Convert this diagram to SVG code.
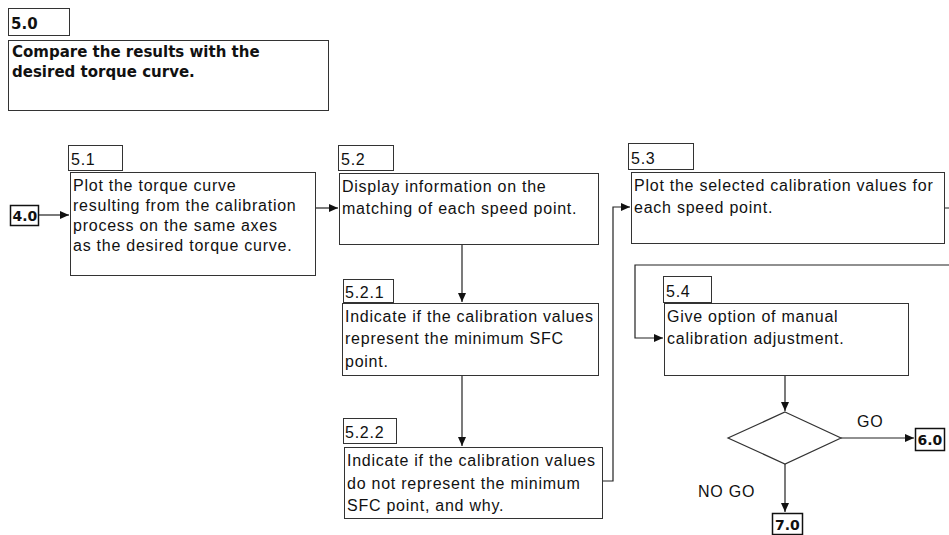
<svg xmlns="http://www.w3.org/2000/svg" width="949" height="535" viewBox="0 0 949 535">
<style>
.box{fill:#fff;stroke:#333;stroke-width:1}
.bbox{fill:#fff;stroke:#111;stroke-width:1.5}
.t{font-family:"Liberation Sans",Arial,sans-serif;font-size:16px;letter-spacing:0.75px;fill:#111}
.b{font-family:"DejaVu Sans",Verdana,sans-serif;font-weight:bold;fill:#111}
.c{fill:none;stroke:#222;stroke-width:1.2}
</style>
<defs>
<marker id="ah" markerUnits="userSpaceOnUse" markerWidth="10" markerHeight="10" refX="9" refY="5" orient="auto">
<path d="M0,1 L9,5 L0,9 Z" fill="#111"/>
</marker>
</defs>
<rect width="949" height="535" fill="#fff"/>

<g id="connectors">
<path class="c" d="M38,215 H69" marker-end="url(#ah)"/>
<path class="c" d="M315,208 H338" marker-end="url(#ah)"/>
<path class="c" d="M462,244 V302" marker-end="url(#ah)"/>
<path class="c" d="M462,375 V446" marker-end="url(#ah)"/>
<path class="c" d="M602,481 H613 V207 H630" marker-end="url(#ah)"/>
<path class="c" d="M945,208 H960 V265 H635 V338 H663" marker-end="url(#ah)"/>
<path class="c" d="M785,375 V411" marker-end="url(#ah)"/>
<path class="c" d="M841,438 H914" marker-end="url(#ah)"/>
<path class="c" d="M785,464 V512" marker-end="url(#ah)"/>
<text class="t" x="857" y="427">GO</text>
<text class="t" x="698" y="497">NO GO</text>
</g>

<g id="n5_0">
<rect class="box" x="8.5" y="8.5" width="61" height="27"/>
<text class="b" font-size="15" x="11" y="29">5.0</text>
<rect class="box" x="8.5" y="40.5" width="320" height="70"/>
<text class="b" font-size="15"><tspan x="12" y="57">Compare the results with the</tspan><tspan x="12" y="77">desired torque curve.</tspan></text>
</g>

<g id="n4_0">
<rect class="bbox" x="10.5" y="205.5" width="28" height="20"/>
<text class="b" font-size="14" x="12.5" y="221">4.0</text>
</g>

<g id="n5_1">
<rect class="box" x="68.5" y="145.5" width="54" height="25"/>
<text class="t" x="71" y="165">5.1</text>
<rect class="box" x="70.5" y="172.5" width="245" height="103"/>
<text class="t"><tspan x="73" y="191">Plot the torque curve</tspan><tspan x="73" y="211">resulting from the calibration</tspan><tspan x="73" y="231">process on the same axes</tspan><tspan x="73" y="251">as the desired torque curve.</tspan></text>
</g>

<g id="n5_2">
<rect class="box" x="338.5" y="145.5" width="55" height="25"/>
<text class="t" x="341" y="165">5.2</text>
<rect class="box" x="339.5" y="173.5" width="259" height="71"/>
<text class="t"><tspan x="342" y="192">Display information on the</tspan><tspan x="342" y="214">matching of each speed point.</tspan></text>
</g>

<g id="n5_2_1">
<rect class="box" x="343.5" y="279.5" width="50" height="23"/>
<text class="t" x="345" y="298">5.2.1</text>
<rect class="box" x="342.5" y="303.5" width="256" height="72"/>
<text class="t"><tspan x="345" y="321.5">Indicate if the calibration values</tspan><tspan x="345" y="344">represent the minimum SFC</tspan><tspan x="345" y="366.5">point.</tspan></text>
</g>

<g id="n5_2_2">
<rect class="box" x="343.5" y="418.5" width="53" height="25"/>
<text class="t" x="345" y="438">5.2.2</text>
<rect class="box" x="344.5" y="447.5" width="258" height="71"/>
<text class="t"><tspan x="347" y="466">Indicate if the calibration values</tspan><tspan x="347" y="488.5">do not represent the minimum</tspan><tspan x="347" y="511">SFC point, and why.</tspan></text>
</g>

<g id="n5_3">
<rect class="box" x="628.5" y="143.5" width="65" height="26"/>
<text class="t" x="631" y="164">5.3</text>
<rect class="box" x="631.5" y="172.5" width="313" height="71"/>
<text class="t"><tspan x="634" y="191">Plot the selected calibration values for</tspan><tspan x="634" y="213">each speed point.</tspan></text>
</g>

<g id="n5_4">
<rect class="box" x="663.5" y="276.5" width="48" height="26"/>
<text class="t" x="666" y="297">5.4</text>
<rect class="box" x="664.5" y="303.5" width="244" height="72"/>
<text class="t"><tspan x="667" y="321.5">Give option of manual</tspan><tspan x="667" y="344">calibration adjustment.</tspan></text>
</g>

<g id="decision">
<polygon points="785,412 841,438 785,464 728,438" fill="#fff" stroke="#333" stroke-width="1.2"/>
</g>

<g id="n6_0">
<rect class="bbox" x="915.5" y="428.5" width="29" height="22"/>
<text class="b" font-size="14" x="917.5" y="445">6.0</text>
</g>

<g id="n7_0">
<rect class="bbox" x="772.5" y="513.5" width="30" height="21"/>
<text class="b" font-size="14" x="775" y="530">7.0</text>
</g>
</svg>
